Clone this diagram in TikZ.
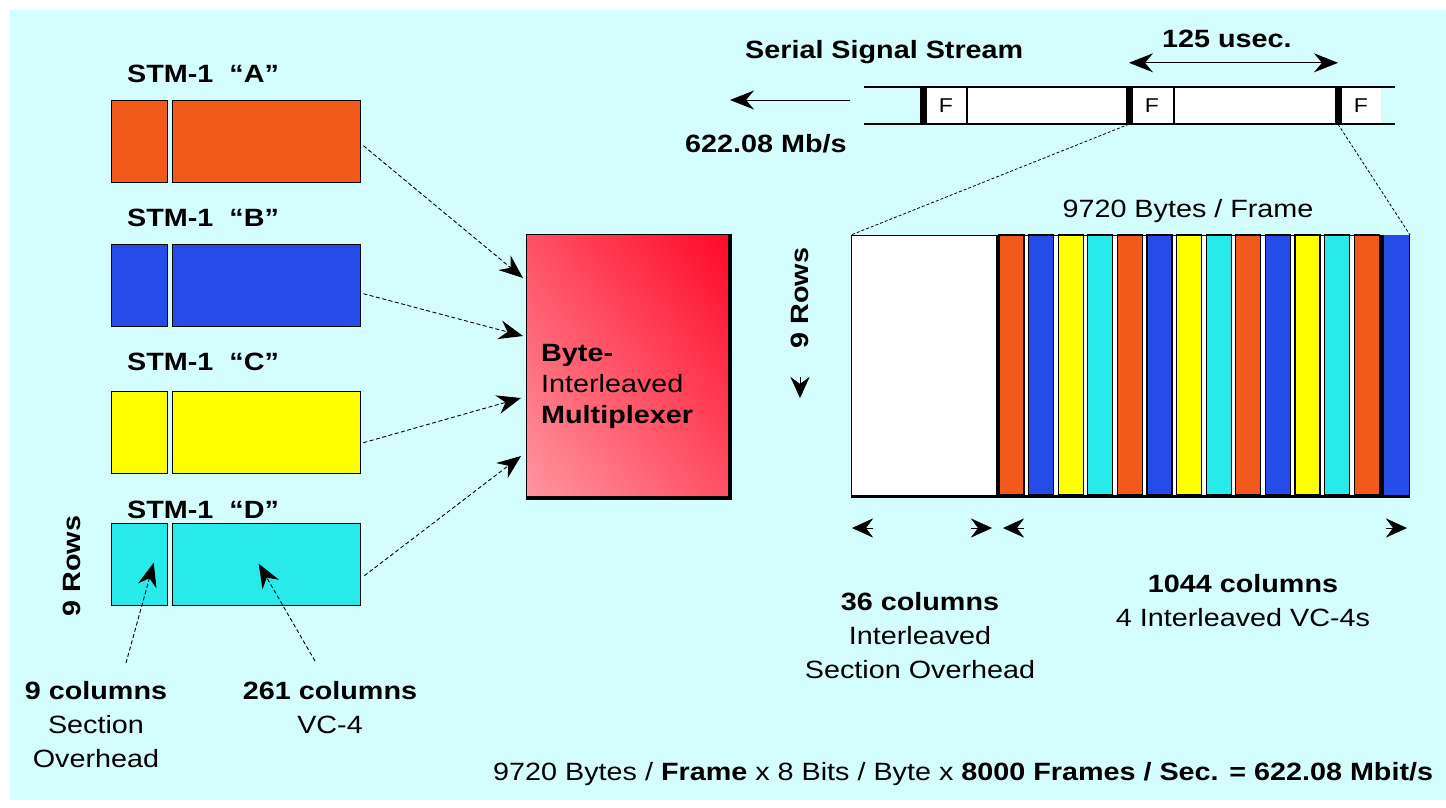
\documentclass[tikz,border=0pt]{standalone}
\usepackage{fontspec}
\setmainfont[FakeStretch=1.15]{Liberation Sans}
\usetikzlibrary{arrows.meta,calc,positioning,shadings}
\definecolor{sky}{RGB}{212,254,254}
\definecolor{stmA}{RGB}{242,90,28}
\definecolor{stmB}{RGB}{36,76,232}
\definecolor{stmC}{RGB}{255,255,0}
\definecolor{stmD}{RGB}{40,234,234}
\definecolor{muxlight}{RGB}{255,150,160}
\definecolor{muxmid}{RGB}{255,80,100}
\definecolor{muxdark}{RGB}{255,8,40}

\begin{document}
\begin{tikzpicture}[x=1pt,y=-1pt,
    lbl/.style={font=\fontsize{25}{34}\selectfont, inner sep=0pt, align=center},
    lblb/.style={lbl, font=\fontsize{25}{34}\selectfont\bfseries},
    stmpart/.style={draw=black, line width=1.4pt, minimum height=82pt, inner sep=0pt, anchor=north west},
    feed/.style={line width=0.9pt, dash pattern=on 4pt off 2.5pt, -{Stealth[length=24pt,width=19pt,inset=8pt]}},
    dimtip/.style={-{Stealth[length=21pt,width=19pt,inset=7pt]}},
    bar/.style={fill=black, minimum width=7pt, minimum height=37pt, inner sep=0pt},
    stripe/.style={draw=black, line width=1.2pt},
    zoomline/.style={line width=0.8pt, dash pattern=on 3pt off 2pt}]
    \useasboundingbox (0,0) rectangle (1446,807);
    \clip (0,0) rectangle (1446,807);
    \fill[white] (0,0) rectangle (1446,807);
    \fill[sky] (10,10) rectangle (1446,800);

    % the four STM-1 inputs
    \foreach \n/\y/\t/\c in {A/100/82/stmA,B/244/226/stmB,C/391/370/stmC,D/523/518/stmD}{
    \node[stmpart, fill=\c, minimum width=56pt] (oh\n) at (111,\y) {};
    \node[stmpart, fill=\c, minimum width=188pt] (pay\n) at (172,\y) {};
    \node[lblb, anchor=base west] (lab\n) at (127,\t) {STM-1\ \ “\n”};
    }
    \node[lblb, rotate=90] (rowsL) at (72,566) {9 Rows};
    \node[lbl, anchor=north] (ohtext) at (96,681) {\textbf{9 columns}\\Section\\Overhead};
    \node[lbl, anchor=north] (vctext) at (330,681) {\textbf{261 columns}\\VC-4};
    \draw[feed] ($(ohtext.north)+(30,-18)$) -- ($(ohD.center)+(14,-2)$);
    \draw[feed] ($(vctext.north)+(-15,-20)$) -- ($(payD.center)+(-8,-1)$);

    % multiplexer
    \node[draw=black, line width=0.8pt, minimum width=203pt, minimum height=263pt, anchor=north west, inner sep=0pt,
    upper right=muxdark, lower left=muxlight, upper left=muxmid, lower right=muxmid] (mux) at (526,234) {};
    \draw[line width=3.5pt] (mux.north east) -- (mux.south east) -- (mux.south west);
    \node[lbl, align=left, anchor=north west, font=\fontsize{25}{31}\selectfont] (muxtext) at (541,344) {\textbf{Byte-}\\Interleaved\\\textbf{Multiplexer}};
    \draw[feed] ($(payA.east)+(2,4)$) -- ($(mux.north west)+(-3,44)$);
    \draw[feed] ($(payB.east)+(2,8)$) -- ($(mux.north west)+(-3,102)$);
    \draw[feed] ($(payC.east)+(2,10)$) -- ($(mux.north west)+(-5,164)$);
    \draw[feed] ($(payD.east)+(3,11)$) -- ($(mux.north west)+(-5,222)$);

    % serial signal stream
    \fill[white] (923,87) rectangle (1381,124);
    \draw[line width=1.5pt] (864,87) -- (1395,87);
    \draw[line width=2pt] (864,124) -- (1395,124);
    \foreach \b/\x in {1/923,2/1129,3/1338}
    \node[bar] (bar\b) at (\x,105.5) {};
    \draw[line width=1.5pt] (967,87) -- (967,124);
    \draw[line width=1.5pt] (1174,87) -- (1174,124);
    \foreach \b in {1,2,3}
    \node[font=\fontsize{20}{24}\selectfont, inner sep=0pt, right=12pt of bar\b] (f\b) {F};
    \node[lblb, anchor=base west] (serial) at (745,58) {Serial Signal Stream};
    \node[lblb, anchor=base west] (period) at (1162,47) {125 usec.};
    \node[lblb, anchor=base west] (rate) at (685,152) {622.08 Mb/s};
    \coordinate (outL) at (730,100);
    \coordinate (outR) at (850,100);
    \draw[line width=1pt, -{Stealth[length=24pt,width=19pt,inset=8pt]}] (outR) -- (outL);
    \draw[line width=1pt, {Stealth[length=24pt,width=19pt,inset=8pt]}-{Stealth[length=24pt,width=19pt,inset=8pt]}]
    ($(bar2.north)+(0,-24)$) -- ($(bar3.north)+(0,-24)$);

    % interleaved STM-4 frame
    \node[draw=black, fill=white, line width=1pt, minimum width=558pt, minimum height=260pt, anchor=north west, inner sep=0pt] (frame) at (851,235) {};
    \draw[line width=1.5pt] (997,235) -- (997,495);
    \foreach \i/\c in {0/stmA,1/stmB,2/stmC,3/stmD,4/stmA,5/stmB,6/stmC,7/stmD,8/stmA,9/stmB,10/stmC,11/stmD,12/stmA}
    \draw[stripe, fill=\c] (999+29.6*\i,235) rectangle ++(25,260);
    \fill[black] (1379,235) rectangle (1384,495);
    \fill[stmB] (1384,235) rectangle (1409,495);
    \draw[line width=3pt] (frame.south west) -- (frame.south east);
    \draw[zoomline] (bar2.south) -- (frame.north west);
    \draw[zoomline] (bar3.south) -- (frame.north east);
    \node[lbl, anchor=base] (bytes) at (1188,217) {9720 Bytes / Frame};
    \node[lblb, rotate=90] (rowsR) at (800,298) {9 Rows};
    \coordinate (rowsEnd) at (800,398);
    \draw[dimtip] ($(rowsEnd)+(0,-21)$) -- (rowsEnd);

    % column counts
    \coordinate (sohL) at (852,528);
    \coordinate (sohR) at (992,528);
    \coordinate (vcL) at (1003,528);
    \coordinate (vcR) at (1407,528);
    \draw[dimtip] ($(sohL)+(21,0)$) -- (sohL);
    \draw[dimtip] ($(sohR)+(-21,0)$) -- (sohR);
    \draw[dimtip] ($(vcL)+(21,0)$) -- (vcL);
    \draw[dimtip] ($(vcR)+(-21,0)$) -- (vcR);
    \node[lbl, anchor=north] (soh) at (920,592) {\textbf{36 columns}\\Interleaved\\Section Overhead};
    \node[lbl, anchor=north] (vcs) at (1243,574) {\textbf{1044 columns}\\4 Interleaved VC-4s};

    \node[lbl, anchor=base west, font=\fontsize{25}{30}\selectfont] (formula) at (493,780)
    {9720 Bytes / \textbf{Frame} x 8 Bits / Byte x \textbf{8000 Frames / Sec. = 622.08 Mbit/s}};
\end{tikzpicture}
\end{document}
